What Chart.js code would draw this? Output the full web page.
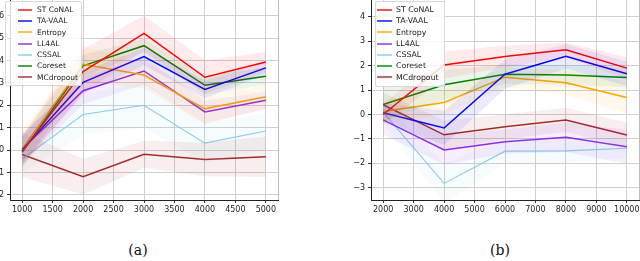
<!DOCTYPE html>
<html>
<head>
<meta charset="utf-8">
<script src="https://cdn.jsdelivr.net/npm/chart.js@4"></script>
<style>
  body { margin: 0; width: 640px; height: 261px; overflow: hidden; background: #fff; position: relative; }
  canvas { position: absolute; }
  .legenda { position: absolute; box-sizing: border-box; background: rgba(255,255,255,0.82); border: 1px solid #d8d8d8; border-radius: 2px; font-family: "DejaVu Sans"; color: #222; padding-top: 2px; }
  .legenda .item { height: 11.3px; line-height: 11.3px; display: flex; align-items: center; white-space: nowrap; }
  .legenda .traco { display: inline-block; height: 2px; flex: none; }
  .rotulo { position: absolute; font: 14px "DejaVu Serif"; color: #111; transform: translateX(-50%); }
</style>
</head>
<body>
<canvas id="grafico_a" width="306" height="226" style="left:-20px;top:-10px;width:306px;height:226px"></canvas>
<canvas id="grafico_b" width="306" height="226" style="left:341px;top:-10px;width:306px;height:226px"></canvas>
<div id="legenda_a" class="legenda" style="left:5px;top:1px;width:77px;height:85px;font-size:7.5px"></div>
<div id="legenda_b" class="legenda" style="left:375px;top:1px;width:70px;height:86px;font-size:7.8px"></div>
<div class="rotulo" style="left:138px;top:242px">(a)</div>
<div class="rotulo" style="left:500px;top:242px">(b)</div>
<script>
// nomes e cores das series
const nomes = ["ST CoNAL", "TA-VAAL", "Entropy", "LL4AL", "CSSAL", "Coreset", "MCdropout"];
const cores = ["#ff0000", "#0000ff", "#ffa500", "#8a2be2", "#87ceeb", "#008000", "#a52a2a"];

// grafico (a)
const amostras_a = [1000, 2000, 3000, 4000, 5000];
const stconal_a = [-0.05, 3.50, 5.21, 3.25, 3.93];
const tavaal_a = [0.00, 3.02, 4.17, 2.71, 3.67];
const entropy_a = [0.05, 3.83, 3.35, 1.84, 2.38];
const ll4al_a = [0.05, 2.65, 3.53, 1.70, 2.22];
const cssal_a = [-0.40, 1.59, 2.00, 0.31, 0.85];
const coreset_a = [-0.10, 3.76, 4.66, 2.89, 3.30];
const mcdropout_a = [-0.20, -1.19, -0.19, -0.42, -0.30];
// desvios (faixas sombreadas)
const stconal_a_dp = [0.7, 1.0, 0.8, 0.75, 0.45];
const tavaal_a_dp = [0.6, 0.5, 0.4, 0.4, 0.3];
const entropy_a_dp = [0.8, 0.8, 0.6, 0.7, 0.5];
const ll4al_a_dp = [0.7, 0.6, 0.6, 0.5, 0.4];
const cssal_a_dp = [0.6, 0.9, 1.0, 0.9, 0.8];
const coreset_a_dp = [0.7, 0.5, 0.3, 0.4, 0.4];
const mcdropout_a_dp = [1.0, 0.8, 0.6, 0.75, 0.9];
const ticks_x_a = [1000, 1500, 2000, 2500, 3000, 3500, 4000, 4500, 5000];

// grafico (b)
const amostras_b = [2000, 4000, 6000, 8000, 10000];
const stconal_b = [0.00, 2.03, 2.38, 2.65, 1.90];
const tavaal_b = [0.07, -0.55, 1.65, 2.39, 1.67];
const entropy_b = [0.12, 0.49, 1.53, 1.30, 0.70];
const ll4al_b = [-0.22, -1.45, -1.11, -0.93, -1.32];
const cssal_b = [0.10, -2.82, -1.50, -1.49, -1.38];
const coreset_b = [0.41, 1.22, 1.65, 1.62, 1.52];
const mcdropout_b = [0.40, -0.83, -0.50, -0.22, -0.84];
const stconal_b_dp = [0.4, 0.55, 0.45, 0.3, 0.45];
const tavaal_b_dp = [0.4, 0.7, 0.6, 0.5, 0.5];
const entropy_b_dp = [0.5, 0.5, 0.4, 0.5, 0.65];
const ll4al_b_dp = [0.6, 0.6, 0.5, 0.6, 0.7];
const cssal_b_dp = [0.5, 0.8, 0.5, 0.5, 0.4];
const coreset_b_dp = [0.7, 0.6, 0.4, 0.4, 0.4];
const mcdropout_b_dp = [0.5, 0.6, 0.5, 0.5, 0.5];
const ticks_x_b = [2000, 3000, 4000, 5000, 6000, 7000, 8000, 9000, 10000];

function comAlfa(hex, a) {
  const n = parseInt(hex.slice(1), 16);
  return `rgba(${(n >> 16) & 255},${(n >> 8) & 255},${n & 255},${a})`;
}

// linha cinza no lado direito (spine)
const bordaDireita = {
  id: "bordaDireita",
  afterDraw(chart) {
    const { ctx, chartArea: a } = chart;
    ctx.save();
    ctx.strokeStyle = "#bdbdbd";
    ctx.lineWidth = 1;
    ctx.beginPath();
    ctx.moveTo(Math.round(a.right) + 0.5, a.top);
    ctx.lineTo(Math.round(a.right) + 0.5, a.bottom);
    ctx.stroke();
    ctx.restore();
  },
};

function montar_grafico(idElemento, xs, medias, desvios, ticksX, limites) {
  const ctx = document.getElementById(idElemento);
  const datasets = [];
  medias.forEach((m, i) => {
    const s = desvios[i];
    datasets.push({
      data: xs.map((x, k) => ({ x, y: m[k] - s[k] })),
      borderWidth: 0, pointRadius: 0, fill: false,
    });
    datasets.push({
      data: xs.map((x, k) => ({ x, y: m[k] + s[k] })),
      borderWidth: 0, pointRadius: 0, fill: "-1",
      backgroundColor: comAlfa(cores[i], 0.08),
    });
  });
  medias.forEach((m, i) => {
    datasets.push({
      label: nomes[i],
      data: xs.map((x, k) => ({ x, y: m[k] })),
      borderColor: cores[i],
      borderWidth: i === 4 ? 1.1 : 1.5,
      pointRadius: 0, fill: false, tension: 0,
    });
  });
  const fonte = { family: "DejaVu Sans", size: 8 };
  return new Chart(ctx, {
    type: "line",
    data: { datasets },
    plugins: [bordaDireita],
    options: {
      responsive: false,
      animation: false,
      layout: { padding: { top: 10, right: 8, left: 0, bottom: 0 } },
      plugins: { legend: { display: false }, tooltip: { enabled: false } },
      scales: {
        x: {
          type: "linear", min: limites.xmin, max: limites.xmax,
          afterBuildTicks: (eixo) => { eixo.ticks = ticksX.map((v) => ({ value: v })); },
          afterFit: (eixo) => { eixo.height = 16; },
          ticks: { font: fonte, color: "#222", padding: 2, maxRotation: 0, autoSkip: false, callback: (v) => String(v) },
          grid: { color: "#cfcfcf", tickColor: "#333", tickLength: 3 },
          border: { color: "#222", width: 1 },
        },
        y: {
          min: limites.ymin, max: limites.ymax,
          afterBuildTicks: (eixo) => { eixo.ticks = eixo.ticks.filter((t) => Number.isInteger(t.value)); },
          afterFit: (eixo) => { eixo.width = 30; },
          ticks: { stepSize: 1, includeBounds: false, font: fonte, color: "#222", padding: 3, callback: (v) => String(v).replace("-", "\u2212") },
          grid: { color: "#cfcfcf", tickColor: "#333", tickLength: 3 },
          border: { color: "#222", width: 1 },
        },
      },
    },
  });
}

function montar_legenda(id, inicioTraco, larguraTraco, espaco) {
  const caixa = document.getElementById(id);
  nomes.forEach((nome, i) => {
    const item = document.createElement("div");
    item.className = "item";
    const traco = document.createElement("span");
    traco.className = "traco";
    traco.style.width = larguraTraco + "px";
    traco.style.marginLeft = inicioTraco + "px";
    traco.style.marginRight = espaco + "px";
    traco.style.background = comAlfa(cores[i], 0.7);
    item.appendChild(traco);
    item.appendChild(document.createTextNode(nome));
    caixa.appendChild(item);
  });
}

montar_grafico("grafico_a", amostras_a,
  [stconal_a, tavaal_a, entropy_a, ll4al_a, cssal_a, coreset_a, mcdropout_a],
  [stconal_a_dp, tavaal_a_dp, entropy_a_dp, ll4al_a_dp, cssal_a_dp, coreset_a_dp, mcdropout_a_dp],
  ticks_x_a, { xmin: 800, xmax: 5200, ymin: -2.23, ymax: 6.70 });

montar_grafico("grafico_b", amostras_b,
  [stconal_b, tavaal_b, entropy_b, ll4al_b, cssal_b, coreset_b, mcdropout_b],
  [stconal_b_dp, tavaal_b_dp, entropy_b_dp, ll4al_b_dp, cssal_b_dp, coreset_b_dp, mcdropout_b_dp],
  ticks_x_b, { xmin: 1600, xmax: 10400, ymin: -3.50, ymax: 4.69 });

montar_legenda("legenda_a", 12, 14, 5);
montar_legenda("legenda_b", 1, 15, 4);
</script>
</body>
</html>
